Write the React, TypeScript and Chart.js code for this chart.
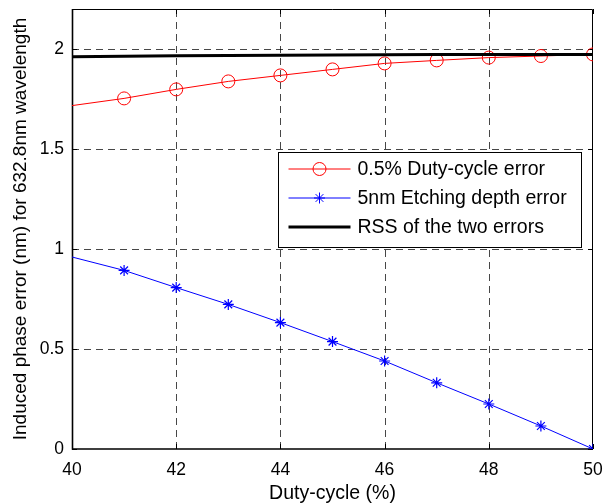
import React, { useEffect, useRef } from "react";
import { Chart, registerables } from "chart.js";

Chart.register(...registerables);

// ---- Data ----
const dutyCycle = [40, 41, 42, 43, 44, 45, 46, 47, 48, 49, 50];
const dutyCycleError = [1.717, 1.753, 1.798, 1.838, 1.868, 1.898, 1.928, 1.943, 1.957, 1.965, 1.973];
const etchingDepthError = [0.96, 0.893, 0.807, 0.723, 0.632, 0.537, 0.44, 0.331, 0.225, 0.115, 0.0];
const rssError = [1.961, 1.964, 1.966, 1.968, 1.969, 1.97, 1.971, 1.972, 1.973, 1.973, 1.973];
const xTicks = [40, 42, 44, 46, 48, 50];
const yTicks = [0, 0.5, 1, 1.5, 2];
const seriesLabels = ["0.5% Duty-cycle error", "5nm Etching depth error", "RSS of the two errors"];
const xTitle = "Duty-cycle (%)";
const yTitle = "Induced phase error (nm) for 632.8nm wavelength";

const FONT = "'Liberation Sans', Arial, Helvetica, sans-serif";
const RED = "#ff0000";
const BLUE = "#0000ff";
const BLACK = "#000000";

const toPoints = (ys: number[]) => dutyCycle.map((x, i) => ({ x, y: ys[i] }));
const markerRadius = (r: number) => dutyCycle.map((_, i) => (i === 0 ? 0 : r));

const zeroPadding = (s: any) => {
  s.paddingTop = 0;
  s.paddingBottom = 0;
  s.paddingLeft = 0;
  s.paddingRight = 0;
};

const framePlugin = {
  id: "matlabFrame",
  beforeDatasetsDraw(chart: any) {
    const { ctx, chartArea: a, scales } = chart;
    const xs = scales.x;
    const ys = scales.y;
    ctx.save();
    // dashed grid
    ctx.strokeStyle = "rgba(0,0,0,0.72)";
    ctx.lineWidth = 1;
    ctx.setLineDash([7, 5]);
    for (const v of xTicks) {
      const px = Math.round(xs.getPixelForValue(v)) + 0.5;
      if (px <= a.left + 2 || px >= a.right - 2) continue;
      ctx.beginPath();
      ctx.moveTo(px, a.bottom);
      ctx.lineTo(px, a.top);
      ctx.stroke();
    }
    for (const v of yTicks) {
      const py = Math.round(ys.getPixelForValue(v)) + 0.5;
      if (py <= a.top + 2 || py >= a.bottom - 2) continue;
      ctx.beginPath();
      ctx.moveTo(a.left, py);
      ctx.lineTo(a.right, py);
      ctx.stroke();
    }
    ctx.setLineDash([]);
    // frame
    ctx.strokeStyle = BLACK;
    ctx.lineWidth = 1;
    ctx.beginPath();
    ctx.moveTo(a.left, a.top + 0.5);
    ctx.lineTo(a.right - 0.5, a.top + 0.5);
    ctx.lineTo(a.right - 0.5, a.bottom);
    ctx.stroke();
    ctx.lineWidth = 1.6;
    ctx.beginPath();
    ctx.moveTo(a.left + 0.5, a.top);
    ctx.lineTo(a.left + 0.5, a.bottom);
    ctx.lineTo(a.right, a.bottom);
    ctx.stroke();
    // inward tick marks
    ctx.lineWidth = 1;
    const tl = 5;
    for (const v of xTicks) {
      const px = Math.round(xs.getPixelForValue(v)) + 0.5;
      ctx.beginPath();
      ctx.moveTo(px, a.bottom);
      ctx.lineTo(px, a.bottom - tl);
      ctx.moveTo(px, a.top);
      ctx.lineTo(px, a.top + tl);
      ctx.stroke();
    }
    for (const v of yTicks) {
      const py = Math.round(ys.getPixelForValue(v)) + 0.5;
      ctx.beginPath();
      ctx.moveTo(a.left, py);
      ctx.lineTo(a.left + tl, py);
      ctx.moveTo(a.right, py);
      ctx.lineTo(a.right - tl, py);
      ctx.stroke();
    }
    ctx.restore();
  },
  afterDraw(chart: any) {
    const { ctx, chartArea: a } = chart;
    const right = a.right - 12.5;
    const left = a.right - 315.5;
    const top = a.top + 142.5;
    const bottom = a.top + 237;
    ctx.save();
    ctx.fillStyle = "#ffffff";
    ctx.fillRect(left, top, right - left, bottom - top);
    ctx.strokeStyle = BLACK;
    ctx.lineWidth = 1;
    ctx.strokeRect(Math.round(left) + 0.5, Math.round(top) + 0.5, Math.round(right - left), Math.round(bottom - top));
    const rows = [17.5, 46.5, 75.5];
    chart.data.datasets.forEach((ds: any, i: number) => {
      const y = top + rows[i];
      ctx.strokeStyle = ds.borderColor;
      ctx.lineWidth = ds.borderWidth;
      ctx.beginPath();
      ctx.moveTo(left + 11, y);
      ctx.lineTo(left + 73, y);
      ctx.stroke();
      const mx = left + 42;
      ctx.lineWidth = 1;
      if (ds.pointStyle === "circle") {
        ctx.beginPath();
        ctx.arc(mx, y, 6.5, 0, Math.PI * 2);
        ctx.stroke();
      } else if (ds.pointStyle === "star") {
        const r = 5.5;
        ctx.beginPath();
        for (let k = 0; k < 4; k++) {
          const ang = (k * Math.PI) / 4;
          ctx.moveTo(mx - r * Math.sin(ang), y - r * Math.cos(ang));
          ctx.lineTo(mx + r * Math.sin(ang), y + r * Math.cos(ang));
        }
        ctx.stroke();
      }
      ctx.fillStyle = BLACK;
      ctx.font = `19.5px ${FONT}`;
      ctx.textBaseline = "middle";
      ctx.textAlign = "left";
      ctx.fillText(seriesLabels[i], left + 80, y + 1);
    });
    ctx.restore();
  },
};

export default function App() {
  const canvasRef = useRef<HTMLCanvasElement | null>(null);

  useEffect(() => {
    const canvas = canvasRef.current;
    if (!canvas) return;
    const chart = new Chart(canvas, {
      type: "line",
      data: {
        datasets: [
          {
            label: seriesLabels[0],
            data: toPoints(dutyCycleError),
            borderColor: RED,
            backgroundColor: "rgba(0,0,0,0)",
            borderWidth: 1,
            pointStyle: "circle",
            pointRadius: markerRadius(6.5),
            pointBorderWidth: 1,
            pointBorderColor: RED,
            pointBackgroundColor: "rgba(0,0,0,0)",
            tension: 0,
            order: 3,
          },
          {
            label: seriesLabels[1],
            data: toPoints(etchingDepthError),
            borderColor: BLUE,
            backgroundColor: "rgba(0,0,0,0)",
            borderWidth: 1,
            pointStyle: "star",
            pointRadius: markerRadius(5.5),
            pointBorderWidth: 1.2,
            pointBorderColor: BLUE,
            pointBackgroundColor: BLUE,
            tension: 0,
            order: 2,
          },
          {
            label: seriesLabels[2],
            data: toPoints(rssError),
            borderColor: BLACK,
            backgroundColor: "rgba(0,0,0,0)",
            borderWidth: 3,
            pointStyle: false as any,
            pointRadius: 0,
            tension: 0,
            order: 1,
          },
        ],
      },
      options: {
        responsive: false,
        animation: false,
        events: [],
        layout: { padding: { top: 9, right: 12, left: 0, bottom: 0 } },
        plugins: {
          legend: { display: false },
          tooltip: { enabled: false },
          title: { display: false },
        },
        scales: {
          x: {
            type: "linear",
            min: 40,
            max: 50,
            afterBuildTicks: (s: any) => {
              s.ticks = xTicks.map((v) => ({ value: v }));
            },
            afterFit: (s: any) => {
              s.height = 55;
              zeroPadding(s);
            },
            grid: { display: false, drawTicks: false },
            border: { display: false },
            ticks: {
              padding: 11,
              color: BLACK,
              maxRotation: 0,
              autoSkip: false,
              font: { family: FONT, size: 17.5 },
              callback: (v: any) => String(v),
            },
            title: {
              display: true,
              text: xTitle,
              color: BLACK,
              font: { family: FONT, size: 19.5, lineHeight: 1.05 },
              padding: { top: 0, bottom: 0 },
            },
          },
          y: {
            type: "linear",
            min: 0,
            max: 2.2,
            afterBuildTicks: (s: any) => {
              s.ticks = yTicks.map((v) => ({ value: v }));
            },
            afterFit: (s: any) => {
              s.width = 72;
              zeroPadding(s);
            },
            grid: { display: false, drawTicks: false },
            border: { display: false },
            ticks: {
              padding: 8,
              color: BLACK,
              autoSkip: false,
              font: { family: FONT, size: 17.5 },
              callback: (v: any) => String(v),
            },
            title: {
              display: true,
              text: yTitle,
              color: BLACK,
              font: { family: FONT, size: 19 },
              padding: { top: 9, bottom: 0 },
            },
          },
        },
      },
      plugins: [framePlugin],
    });
    return () => chart.destroy();
  }, []);

  return (
    <div style={{ position: "absolute", left: 0, top: 0, width: 605, height: 504, background: "#ffffff" }}>
      <canvas ref={canvasRef} width={605} height={504} style={{ display: "block" }} />
    </div>
  );
}
